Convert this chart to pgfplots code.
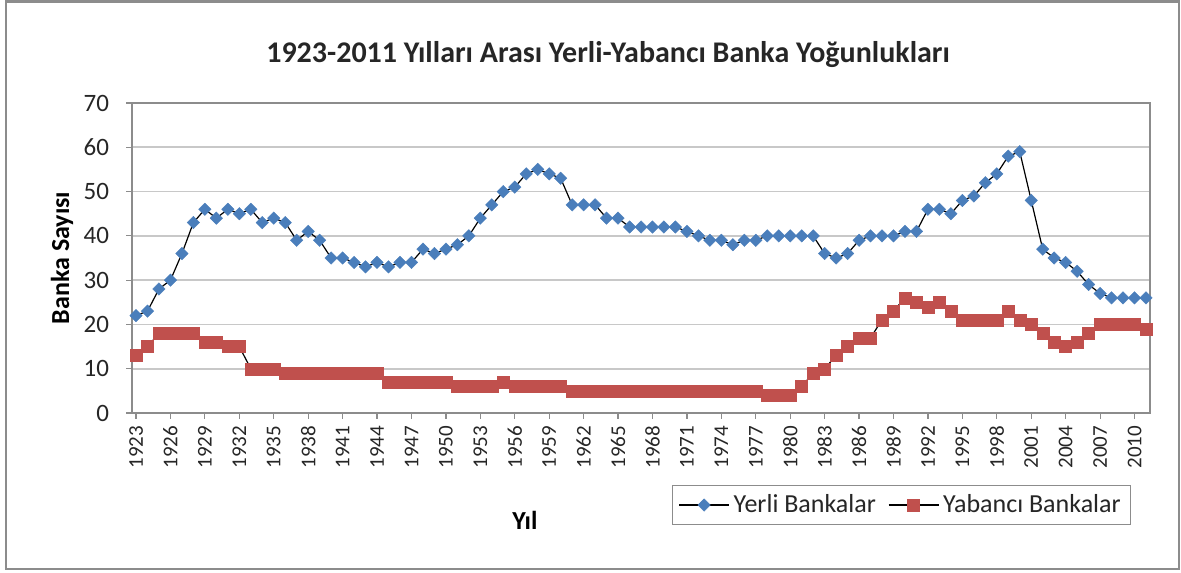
\documentclass[border=0pt]{standalone}
\usepackage{pgfplots}
\pgfplotsset{compat=1.18}
\usepackage{pgfplotstable}
\usepackage{fontspec}
\setmainfont{Carlito}
\definecolor{ybl}{HTML}{4A7EBB}
\definecolor{yred}{HTML}{C0504D}
\definecolor{gridc}{HTML}{C8C8C8}
\definecolor{axc}{HTML}{8C8C8C}
\pgfplotstableread{
year Y F
1923 22 13
1924 23 15
1925 28 18
1926 30 18
1927 36 18
1928 43 18
1929 46 16
1930 44 16
1931 46 15
1932 45 15
1933 46 10
1934 43 10
1935 44 10
1936 43 9
1937 39 9
1938 41 9
1939 39 9
1940 35 9
1941 35 9
1942 34 9
1943 33 9
1944 34 9
1945 33 7
1946 34 7
1947 34 7
1948 37 7
1949 36 7
1950 37 7
1951 38 6
1952 40 6
1953 44 6
1954 47 6
1955 50 7
1956 51 6
1957 54 6
1958 55 6
1959 54 6
1960 53 6
1961 47 5
1962 47 5
1963 47 5
1964 44 5
1965 44 5
1966 42 5
1967 42 5
1968 42 5
1969 42 5
1970 42 5
1971 41 5
1972 40 5
1973 39 5
1974 39 5
1975 38 5
1976 39 5
1977 39 5
1978 40 4
1979 40 4
1980 40 4
1981 40 6
1982 40 9
1983 36 10
1984 35 13
1985 36 15
1986 39 17
1987 40 17
1988 40 21
1989 40 23
1990 41 26
1991 41 25
1992 46 24
1993 46 25
1994 45 23
1995 48 21
1996 49 21
1997 52 21
1998 54 21
1999 58 23
2000 59 21
2001 48 20
2002 37 18
2003 35 16
2004 34 15
2005 32 16
2006 29 18
2007 27 20
2008 26 20
2009 26 20
2010 26 20
2011 26 19
}\bankdata
\begin{document}
\begin{tikzpicture}[x=1pt,y=1pt]
\path (0,0) rectangle (590.5,286);
\draw[color=axc, line width=1.2pt] (3,1.5) rectangle (589.5,285.2);
\node[font=\fontsize{15}{18}\selectfont\bfseries, text=black!85] at (304,258.5) {1923-2011 Yılları Arası Yerli-Yabancı Banka Yoğunlukları};
\begin{axis}[
  at={(66pt,79.5pt)}, anchor=south west, scale only axis,
  width=509pt, height=155pt,
  xmin=1922.65, xmax=2011.35, ymin=0, ymax=70,
  ytick={0,10,...,70},
  xtick={1923,1926,...,2010},
  minor x tick num=2,
  xtick pos=bottom, ytick pos=left,
  tick align=outside,
  major tick length=3pt, minor tick length=3pt,
  tick style={color=axc, line width=0.6pt},
  axis line style={color=axc, line width=0.8pt},
  ymajorgrids, grid style={color=gridc, line width=0.8pt},
  xticklabel style={rotate=90, anchor=east, font=\fontsize{10.5}{12}\selectfont, text=black!85},
  yticklabel style={font=\fontsize{12.5}{14}\selectfont, text=black!85, xshift=-5pt},
  /pgf/number format/assume math mode=true,
  /pgf/number format/1000 sep={},
  xlabel={Yıl},
  xlabel style={at={(axis description cs:0.386,-0.345)}, anchor=center, font=\fontsize{13}{15}\selectfont\bfseries},
  ylabel={Banka Sayısı},
  ylabel style={at={(axis description cs:-0.0688,0.5)}, anchor=center, font=\fontsize{13}{15}\selectfont\bfseries},
  legend columns=2,
  legend style={at={(axis description cs:0.756,-0.297)}, anchor=center, draw=axc, line width=0.6pt,
    font=\fontsize{13}{15}\selectfont, text=black!85, inner xsep=3pt, inner ysep=2.5pt,
    /tikz/every even column/.append style={column sep=4pt}},
  legend image code/.code={\draw[mark repeat=2,mark phase=2] plot coordinates {(0pt,0pt) (12.5pt,0pt) (25pt,0pt)};},
  legend image post style={line width=0.6pt},
]
\addplot[black, line width=0.6pt, mark=square*, mark size=2.2pt,
  mark options={rotate=45, fill=ybl, draw=ybl, line width=0.2pt}]
  table[x=year, y=Y] {\bankdata};
\addlegendentry{Yerli Bankalar}
\addplot[black, line width=0.6pt, mark=square*, mark size=3pt,
  mark options={fill=yred, draw=yred, line width=0.2pt}]
  table[x=year, y=F] {\bankdata};
\addlegendentry{Yabancı Bankalar}
\end{axis}
\end{tikzpicture}
\end{document}
